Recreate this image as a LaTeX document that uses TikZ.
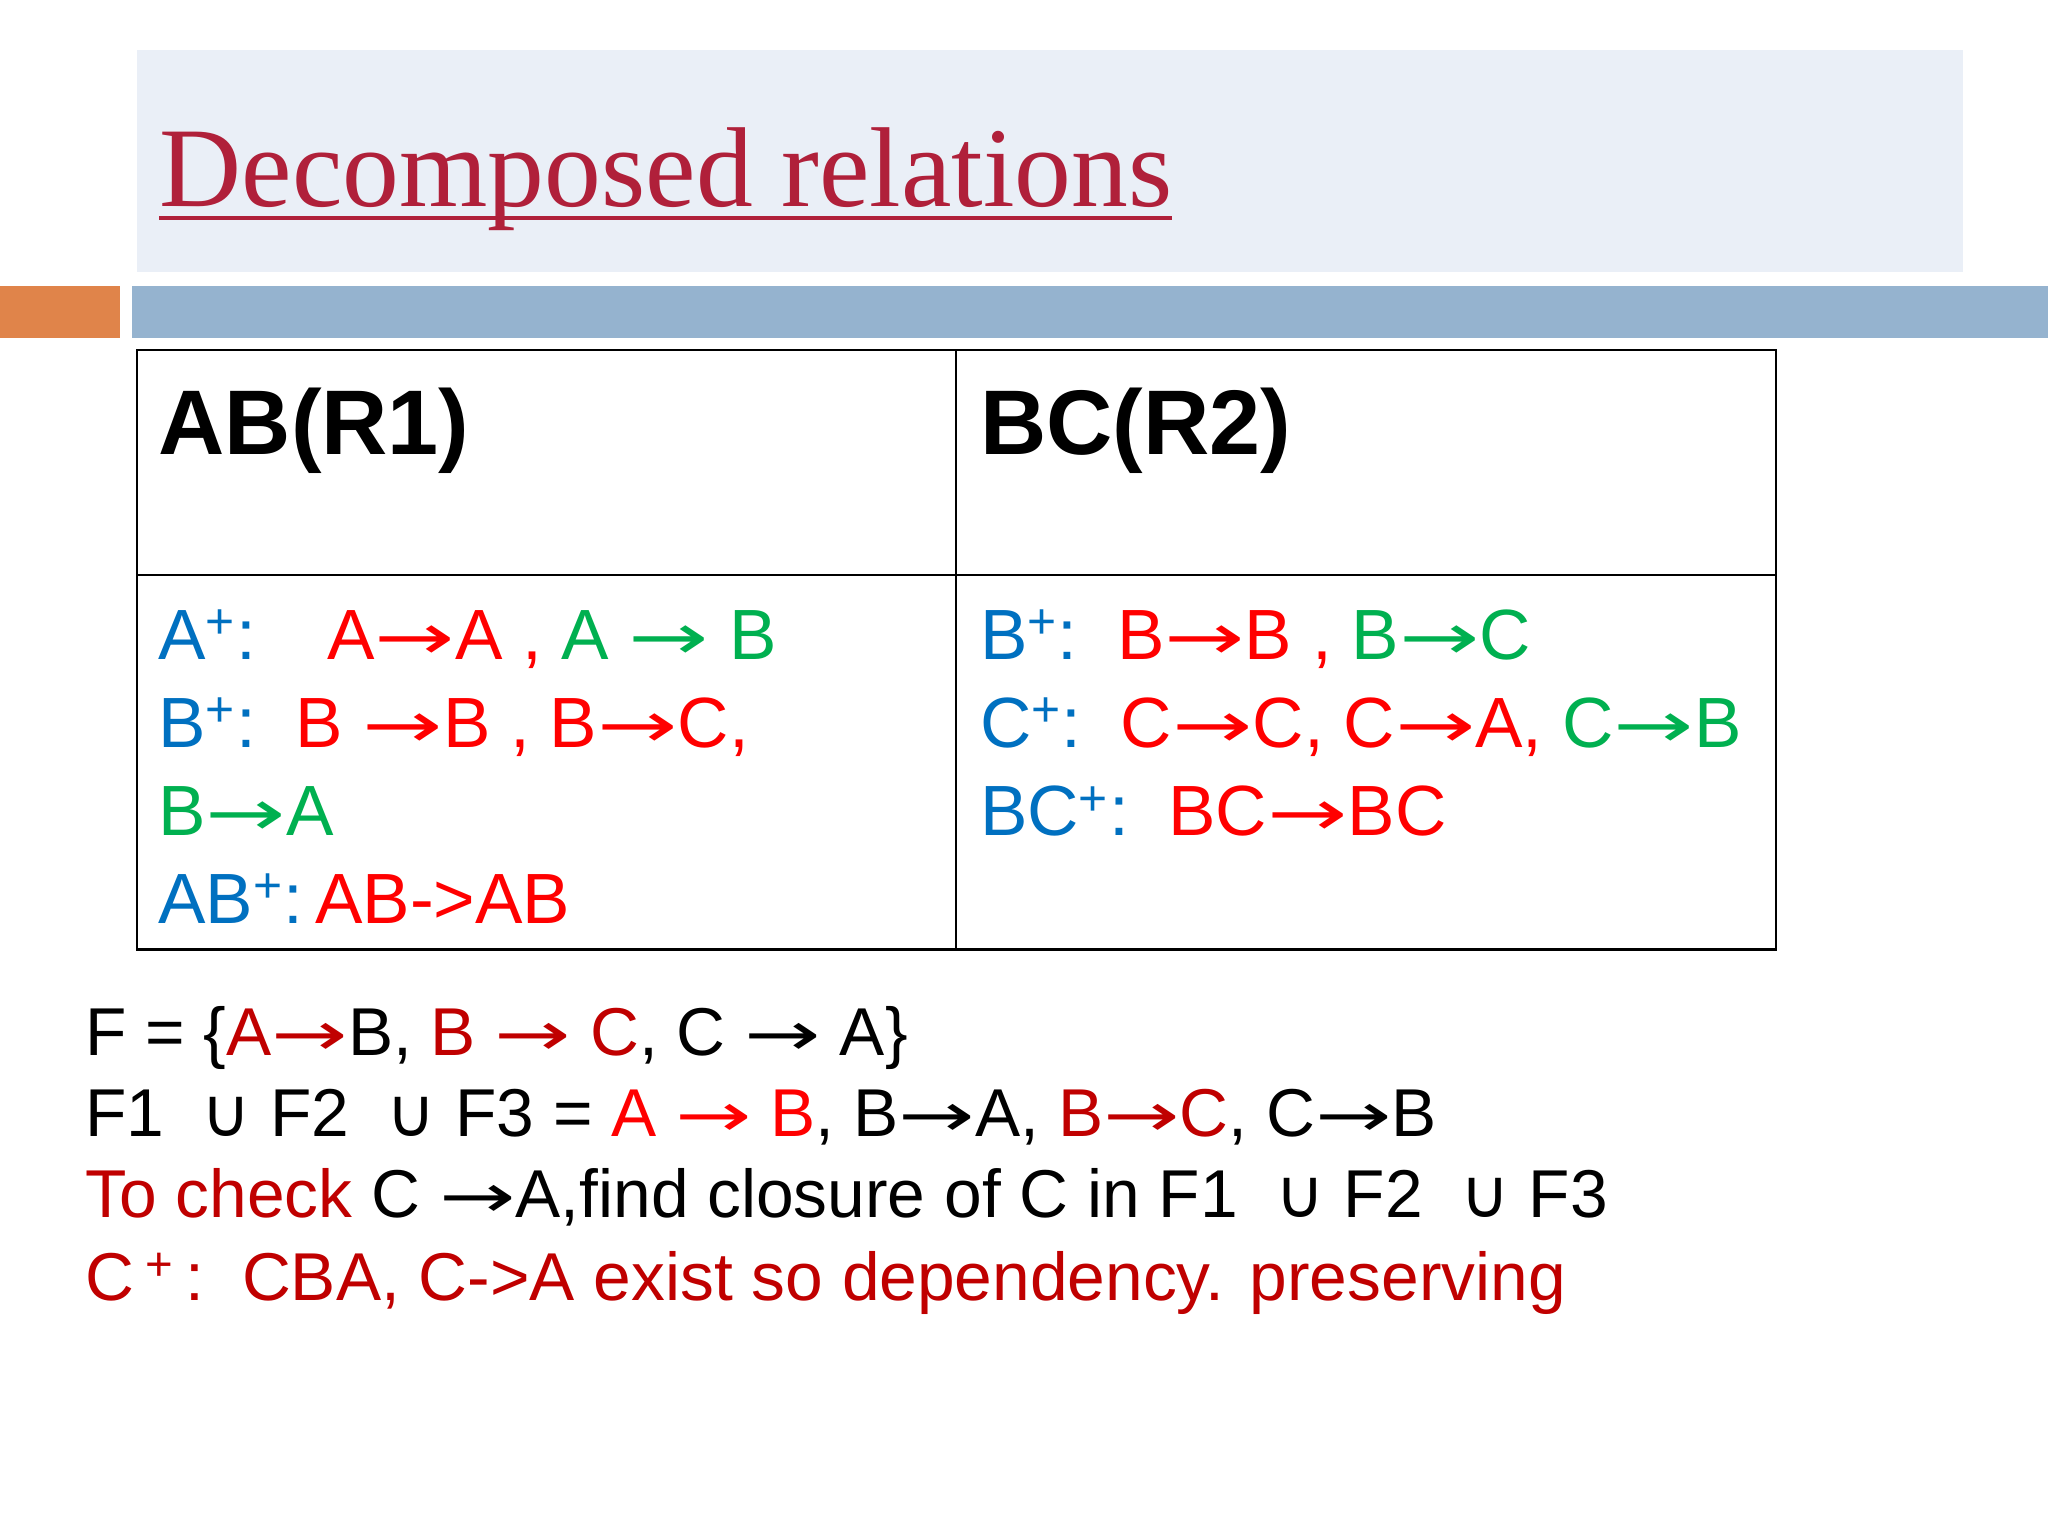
\documentclass[tikz,border=0pt]{standalone}
\usepackage{fontspec}
\setmainfont{Liberation Sans}
\newfontfamily\seriff{Liberation Serif}
\newfontfamily\dvs{DejaVu Sans}
\definecolor{cb}{HTML}{0070C0}
\definecolor{cr}{HTML}{FF0000}
\definecolor{cg}{HTML}{00B050}
\definecolor{dr}{HTML}{C00000}
\definecolor{tr}{HTML}{B0203A}
\definecolor{band}{HTML}{EAEFF7}
\definecolor{obar}{HTML}{E0844A}
\definecolor{bbar}{HTML}{95B3CF}
\newcommand{\uu}{{\dvs\char"222A}}
\newcommand{\ar}{\scalebox{1.35}[0.9]{\dvs\char"2192}}
\begin{document}
\begin{tikzpicture}[x=0.02cm,y=-0.02cm,
  txt/.style={anchor=base west,inner sep=0pt,font=\fontsize{31}{36}\selectfont},
  low/.style={anchor=base west,inner sep=0pt,font=\fontsize{29.5}{34}\selectfont},
  hdr/.style={anchor=base west,inner sep=0pt,font=\fontsize{40}{46}\selectfont\bfseries}]
\useasboundingbox[fill=white] (0,0) rectangle (1568,1176);
\fill[band] (105,38) rectangle (1503,208);
\fill[obar] (0,219) rectangle (92,259);
\fill[bbar] (101,219) rectangle (1568,259);
\node[anchor=base west,inner sep=0pt,text=tr,font=\seriff\fontsize{49.5}{58}\selectfont] (title) at (122,158) {Decomposed relations};
\draw[tr,line width=1.6pt] (122,167) -- (897,167);
\draw[line width=1pt] (105,268) rectangle (1360,727);
\draw[line width=1pt] (732,268) -- (732,727);
\draw[line width=1pt] (105,440) -- (1360,440);
\node[hdr] (h1) at (121,348) {AB(R1)};
\node[hdr] (h2) at (750,348) {BC(R2)};
\node[txt] (l1) at (121,505) {\textcolor{cb}{A\textsuperscript{+}:}\quad\textcolor{cr}{A\ar A , }\textcolor{cg}{A \ar\ B}};
\node[txt] (l2) at (121,572) {\textcolor{cb}{B\textsuperscript{+}:}\ \ \textcolor{cr}{B \ar B , B\ar C,}};
\node[txt] (l3) at (121,640) {\textcolor{cg}{B\ar A}};
\node[txt] (l4) at (121,707) {\textcolor{cb}{AB\textsuperscript{+}:}\,\textcolor{cr}{AB->AB}};
\node[txt] (r1) at (750,505) {\textcolor{cb}{B\textsuperscript{+}:}\ \ \textcolor{cr}{B\ar B , }\textcolor{cg}{B\ar C}};
\node[txt] (r2) at (750,572) {\textcolor{cb}{C\textsuperscript{+}:}\ \ \textcolor{cr}{C\ar C, C\ar A, }\textcolor{cg}{C\ar B}};
\node[txt] (r3) at (750,640) {\textcolor{cb}{BC\textsuperscript{+}:}\ \ \textcolor{cr}{BC\ar BC}};
\node[low] (f1) at (65,808) {F = \{\textcolor{dr}{A\ar}B, \textcolor{dr}{B \ar\ C}, C \ar\ A\}};
\node[low] (f2) at (65,870) {F1\ \ \uu\ F2\ \ \uu\ F3 = \textcolor{cr}{A \ar\ B}, B\ar A, \textcolor{dr}{B\ar C}, C\ar B};
\node[low] (f3) at (65,932) {\textcolor{dr}{To check} C \ar A,find closure of C in F1\ \ \uu\ F2\ \ \uu\ F3};
\node[low,text=dr] (f4) at (65,996) {C\,\textsuperscript{+}\,:\ \ CBA, C->A exist so dependency. preserving};
\end{tikzpicture}
\end{document}
